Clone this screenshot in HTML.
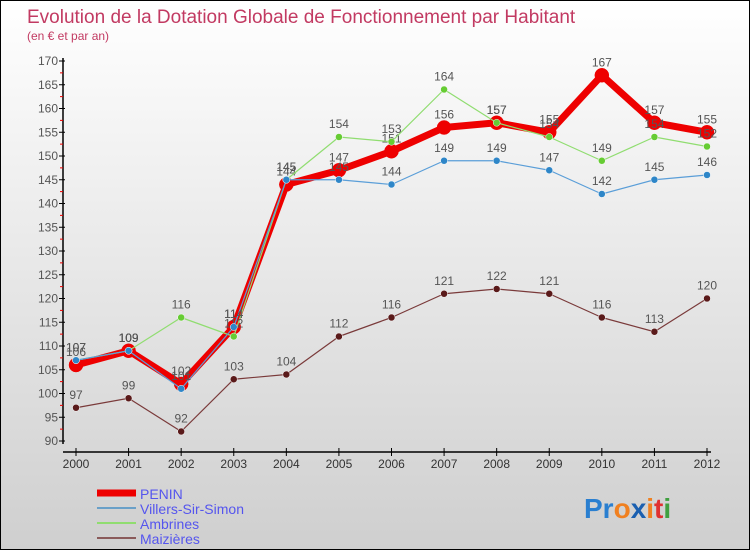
<!DOCTYPE html>
<html><head><meta charset="utf-8"><style>
body{margin:0}
#wrap{position:relative;width:748px;height:548px;border:1px solid #000;background:linear-gradient(#ffffff,#cfcfcf);font-family:"Liberation Sans",sans-serif;overflow:hidden}
svg{position:absolute;left:0;top:0}
</style></head><body>
<div id="wrap">
<svg id="chart" width="748" height="548">
<text x="26" y="22" font-size="19" fill="#c23a62">Evolution de la Dotation Globale de Fonctionnement par Habitant</text>
<text x="26" y="39" font-size="12" fill="#c23a62">(en € et par an)</text>
<g id="axes"></g><g id="series"></g><g id="legend"></g>
<text x="583" y="517" font-size="28" font-weight="bold"><tspan fill="#2a7fd0">Pr</tspan><tspan fill="#f08020">o</tspan><tspan fill="#1a5fb0">x</tspan><tspan fill="#f08020">i</tspan><tspan fill="#e03030">t</tspan><tspan fill="#40a040">i</tspan></text>
</svg></div>
<script>
const years=[2000,2001,2002,2003,2004,2005,2006,2007,2008,2009,2010,2011,2012];
const penin=[106,109,102,114,144,147,151,156,157,155,167,157,155];
const villers=[107,109,101,114,145,145,144,149,149,147,142,145,146];
const ambrines=[107,109,116,112,145,154,153,164,157,154,149,154,152];
const maizieres=[97,99,92,103,104,112,116,121,122,121,116,113,120];
const yTicks=[90,95,100,105,110,115,120,125,130,135,140,145,150,155,160,165,170];
const NS="http://www.w3.org/2000/svg";
const X=i=>75+i*(631/12);
const Y=v=>440-(v-90)*4.75;
function mk(tag,attrs,parent){const e=document.createElementNS(NS,tag);for(const k in attrs)e.setAttribute(k,attrs[k]);parent.appendChild(e);return e;}
const axes=document.getElementById('axes');
let l=mk('line',{x1:62,y1:57,x2:62,y2:443,stroke:'#000','stroke-width':1.5},axes);

l=mk('line',{x1:62,y1:451,x2:710,y2:451,stroke:'#000','stroke-width':1.5},axes);

yTicks.forEach(v=>{
 mk('line',{x1:58,y1:Y(v),x2:64,y2:Y(v),stroke:'#000'},axes);
 if(v<170)mk('line',{x1:59,y1:Y(v+2.5),x2:62,y2:Y(v+2.5),stroke:'#e00'},axes);
 const t=mk('text',{x:57,y:Y(v)+4,'font-size':12,fill:'#555','text-anchor':'end'},axes);t.textContent=v;
 
});
years.forEach((y,i)=>{
 mk('line',{x1:X(i),y1:447,x2:X(i),y2:455,stroke:'#000'},axes);
 const t=mk('text',{x:X(i),y:467,'font-size':12,fill:'#333','text-anchor':'middle'},axes);t.textContent=y;
 
});
const S=document.getElementById('series');
const defs=[
 {n:'maizieres',d:maizieres,c:'#7a3a3a',f:'#5a1a1a',w:1.2,r:3.5},
 {n:'ambrines',d:ambrines,c:'#90dd70',f:'#66cc33',w:1.2,r:3.5},
 {n:'villers',d:villers,c:'#5a9ed8',f:'#2e86c8',w:1.2,r:3.5},
 {n:'penin',d:penin,c:'#ee0000',f:'#ee0000',w:7,r:7}];
[defs[3],defs[0],defs[1],defs[2]].forEach((s,k)=>{});
const order=[defs[3],defs[0],defs[1],defs[2]];
order.forEach(s=>{
 const g=mk('g',{},S);
 
 const p=mk('polyline',{points:s.d.map((v,i)=>X(i)+','+Y(v)).join(' '),fill:'none',stroke:s.c,'stroke-width':s.w,'stroke-linejoin':'round'},g);
 
 s.d.forEach((v,i)=>{
  const c=mk('circle',{cx:X(i),cy:Y(v),r:s.r,fill:s.f,stroke:s.n=='penin'?'#e00':'#fff','stroke-width':0.5},g);
  
  const t=mk('text',{x:X(i),y:Y(v)-9,'font-size':12,fill:'#555','text-anchor':'middle'},g);t.textContent=v;
  
 });
});
const L=document.getElementById('legend');
[['PENIN','#ee0000',7],['Villers-Sir-Simon','#6aa0c8',2],['Ambrines','#90dd70',2],['Maizières','#8a5a5a',2]].forEach((e,i)=>{
 const y=492+i*15;
 const g=mk('g',{},L);
 
 mk('line',{x1:96,y1:y,x2:135,y2:y,stroke:e[1],'stroke-width':e[2]},g);
 const t=mk('text',{x:139,y:y+6,'font-size':14,fill:'#5555ee'},g);t.textContent=e[0];
});
</script>
</body></html>
